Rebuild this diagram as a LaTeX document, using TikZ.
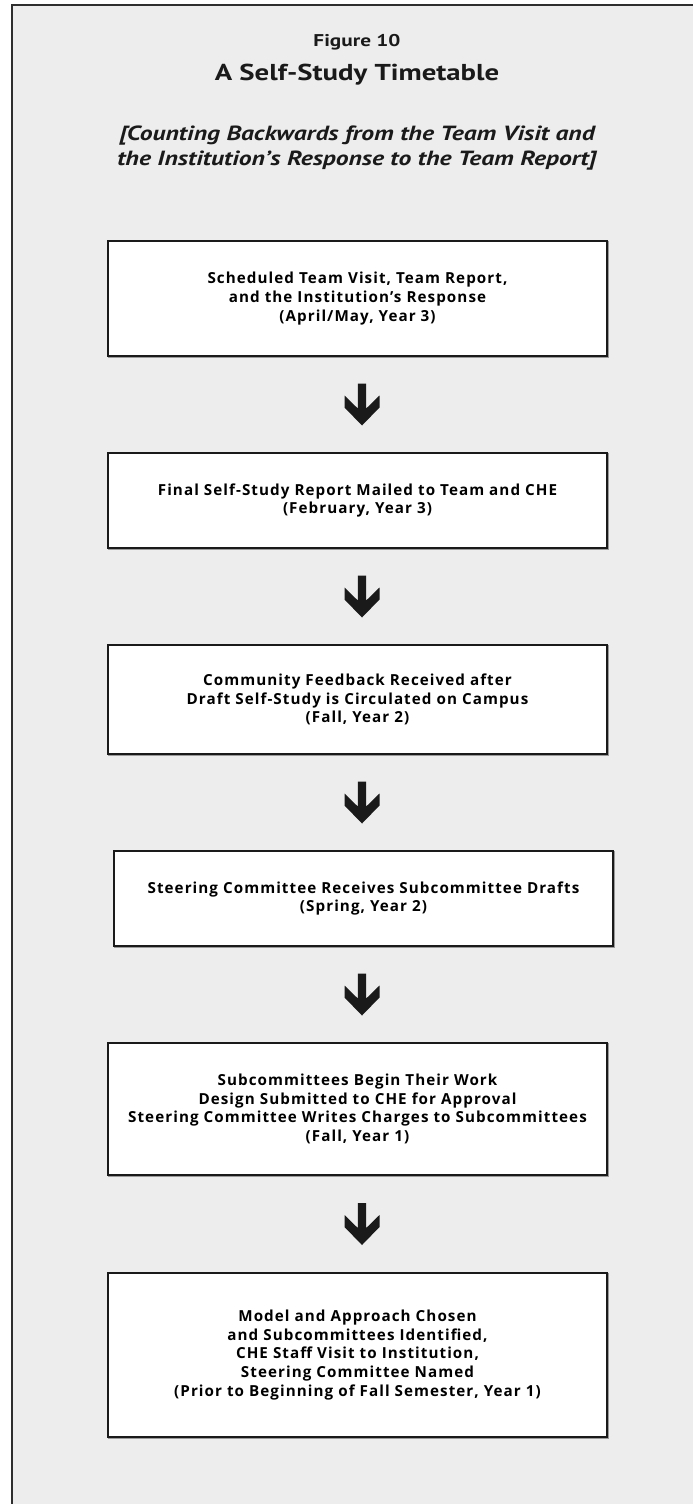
\documentclass[tikz,border=0pt]{standalone}
\usepackage{fontspec}
\setmainfont{PT Sans}
\newfontfamily\headfont[FakeStretch=1.25]{PT Sans}
\newfontfamily\stagefont[LetterSpace=7]{Open Sans}
\usetikzlibrary{calc}

\definecolor{panel}{HTML}{EDEDED}
\definecolor{ink}{HTML}{1A1A1A}
\definecolor{rim}{HTML}{2E2E2E}
\definecolor{shade}{HTML}{9A9A9A}

\tikzset{
  stage/.style={draw=ink, line width=1.1pt, fill=white, minimum width=499pt,
    inner sep=0pt, align=center,
    font=\stagefont\bfseries\fontsize{15.2}{18.7}\selectfont,
    preaction={draw=shade, line width=1.1pt, transform canvas={shift={(1pt,-1pt)}}}},
  heading/.style={inner sep=0pt, align=center, text=ink},
  downarrow/.pic={
    \fill[ink] (-4.2,-21) -- (4.2,-21) -- (4.2,4) -- (17.5,-9) -- (17.5,3)
      -- (0,21) -- (-17.5,3) -- (-17.5,-9) -- (-4.2,4) -- cycle;
  }
}

\begin{document}
\begin{tikzpicture}[x=1pt, y=-1pt]
  % page and panel
  \useasboundingbox (0,0) rectangle (693,1504);
  \fill[white] (0,0) rectangle (693,1504);
  \fill[panel] (12,5) rectangle (693,1504);
  \draw[rim, line width=1.5pt] (12,1504) -- (12,5) -- (693,5);

  % headings
  \node[heading, font=\headfont\bfseries\fontsize{17}{20}\selectfont] (fig) at (357,42) {Figure 10};
  \node[heading, font=\headfont\bfseries\fontsize{23}{26}\selectfont] (ttl) at (357,75) {A Self-Study Timetable};
  \node[heading, font=\headfont\bfseries\itshape\fontsize{20.5}{25.5}\selectfont] (sub) at (357,148)
    {[Counting Backwards from the Team Visit and\\the Institution’s Response to the Team Report]};

  % timeline stages
  \node[stage, minimum height=115pt] (s1) at (357.5,298.5)
    {Scheduled Team Visit, Team Report,\\and the Institution’s Response\\(April/May, Year 3)};
  \node[stage, minimum height=95pt] (s2) at (357.5,500.5)
    {Final Self-Study Report Mailed to Team and CHE\\(February, Year 3)};
  \node[stage, minimum height=109pt] (s3) at (357.5,699.5)
    {Community Feedback Received after\\Draft Self-Study is Circulated on Campus\\(Fall, Year 2)};
  \node[stage, minimum height=95pt] (s4) at (363.5,898.5)
    {Steering Committee Receives Subcommittee Drafts\\(Spring, Year 2)};
  \node[stage, minimum height=132pt] (s5) at (357.5,1109)
    {Subcommittees Begin Their Work\\Design Submitted to CHE for Approval\\Steering Committee Writes Charges to Subcommittees\\(Fall, Year 1)};
  \node[stage, minimum height=164pt] (s6) at (357.5,1355)
    {Model and Approach Chosen\\and Subcommittees Identified,\\CHE Staff Visit to Institution,\\Steering Committee Named\\(Prior to Beginning of Fall Semester, Year 1)};

  % block arrows between consecutive stages
  \coordinate (axis) at (362,0);
  \foreach \a/\b in {s1/s2, s2/s3, s3/s4, s4/s5, s5/s6} {
    \coordinate (gap-\a) at ($(\a.south)!0.5!(\b.north)$);
    \pic at (gap-\a -| axis) {downarrow};
  }
\end{tikzpicture}
\end{document}
